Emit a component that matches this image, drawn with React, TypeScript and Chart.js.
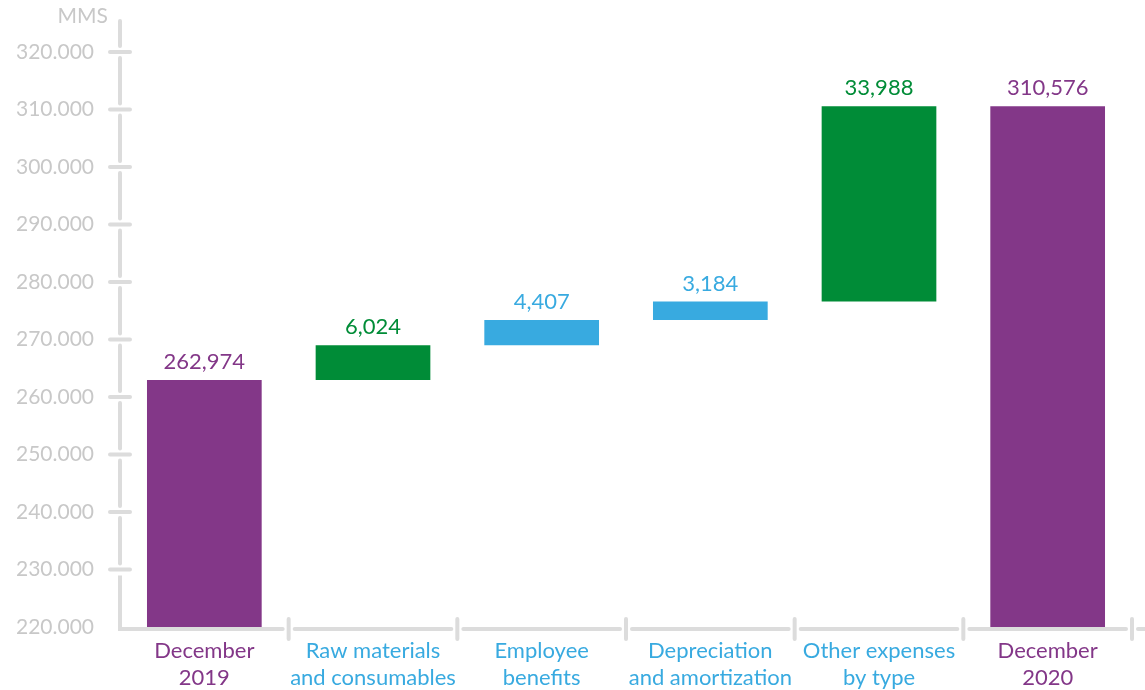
import React, { useEffect, useRef } from "react";
import { Chart, registerables } from "chart.js";

Chart.register(...registerables);

const PURPLE = "rgb(131,55,136)";
const GREEN = "rgb(0,140,55)";
const BLUE = "rgb(56,170,224)";
const AXIS_GREY = "#dcdcdc";
const TEXT_GREY = "#c8c8c8";
const FONT = "Lato, 'Open Sans', sans-serif";

const categories: string[][] = [
  ["December", "2019"],
  ["Raw materials", "and consumables"],
  ["Employee", "benefits"],
  ["Depreciation", "and amortization"],
  ["Other expenses", "by type"],
  ["December", "2020"],
];
const startValue = 262974;
const changes = [6024, 4407, 3184, 33988];
const endValue = 310576;
const barColors = [PURPLE, GREEN, BLUE, BLUE, GREEN, PURPLE];
const labelColors = [PURPLE, BLUE, BLUE, BLUE, BLUE, PURPLE];
const yMin = 220000;
const yMax = 320000;
const yStep = 10000;
const unitLabel = "MMS";

const displayValues = [startValue, ...changes, endValue];
const ranges: number[][] = [];
ranges.push([yMin, startValue]);
let running = startValue;
for (const c of changes) {
  ranges.push([running, running + c]);
  running += c;
}
ranges.push([yMin, endValue]);

const fmtTick = (v: number) => {
  const th = Math.floor(v / 1000);
  const rest = String(Math.round(v % 1000)).padStart(3, "0");
  return `${th}.${rest}`;
};
const fmtValue = (v: number) => v.toLocaleString("en-US");

const axisPlugin = {
  id: "customAxes",
  afterDatasetsDraw(chart: any) {
    const ctx = chart.ctx;
    const y = chart.scales.y;
    const x = chart.scales.x;
    const left = chart.chartArea.left;
    const axisY = chart.chartArea.bottom + 2;
    ctx.save();
    ctx.strokeStyle = AXIS_GREY;
    ctx.lineWidth = 4;
    ctx.lineCap = "round";
    const tickYs: number[] = [];
    for (let v = yMin + yStep; v <= yMax; v += yStep) tickYs.push(y.getPixelForValue(v));
    tickYs.sort((a, b) => a - b);
    const gap = 6;
    let segStart = chart.chartArea.top - 31;
    const drawLine = (x1: number, y1: number, x2: number, y2: number) => {
      ctx.beginPath();
      ctx.moveTo(x1, y1);
      ctx.lineTo(x2, y2);
      ctx.stroke();
    };
    for (const ty of tickYs) {
      drawLine(left, segStart, left, ty - gap);
      drawLine(left - 10, ty, left + 10, ty);
      segStart = ty + gap;
    }
    ctx.lineCap = "butt";
    ctx.beginPath();
    ctx.moveTo(left, segStart);
    ctx.lineTo(left, axisY);
    ctx.lineTo(left + 10, axisY);
    ctx.stroke();
    ctx.lineCap = "round";
    const n = categories.length;
    const bounds: number[] = [];
    for (let i = 1; i <= n; i++) {
      if (i < n) bounds.push((x.getPixelForValue(i - 1) + x.getPixelForValue(i)) / 2);
      else bounds.push(chart.chartArea.right);
    }
    let hs = left + 8;
    for (const bx of bounds) {
      drawLine(hs, axisY, bx - gap, axisY);
      drawLine(bx, axisY - 10, bx, axisY + 10);
      hs = bx + gap;
    }
    drawLine(hs, axisY, chart.width + 10, axisY);
    ctx.fillStyle = TEXT_GREY;
    ctx.font = `21px ${FONT}`;
    ctx.textAlign = "right";
    ctx.textBaseline = "middle";
    ctx.fillText(unitLabel, left - 12, chart.chartArea.top - 36);
    const meta = chart.getDatasetMeta(0);
    ctx.font = `22px ${FONT}`;
    ctx.textAlign = "center";
    ctx.textBaseline = "alphabetic";
    meta.data.forEach((el: any, i: number) => {
      ctx.fillStyle = barColors[i];
      const top = Math.min(el.y, el.base);
      ctx.fillText(fmtValue(displayValues[i]), el.x, top - 11);
    });
    ctx.restore();
  },
};

export default function App() {
  const ref = useRef<HTMLCanvasElement>(null);
  useEffect(() => {
    if (!ref.current) return;
    const chart = new Chart(ref.current, {
      type: "bar",
      data: {
        labels: categories,
        datasets: [
          {
            data: ranges as any,
            backgroundColor: barColors,
            borderWidth: 0,
            barPercentage: 0.68,
            categoryPercentage: 1,
          },
        ],
      },
      options: {
        animation: false,
        responsive: false,
        maintainAspectRatio: false,
        devicePixelRatio: 1,
        layout: { padding: { top: 52, right: 13, left: 0, bottom: 0 } },
        plugins: { legend: { display: false }, tooltip: { enabled: false } },
        scales: {
          x: {
            grid: { display: false, drawTicks: false },
            border: { display: false },
            ticks: {
              color: (c: any) => labelColors[c.index],
              font: { family: FONT, size: 22, lineHeight: 1.23 },
              padding: 10,
              maxRotation: 0,
              autoSkip: false,
            },
            afterFit: (s: any) => {
              s.height = 63;
            },
          },
          y: {
            min: yMin,
            max: yMax,
            grid: { display: false, drawTicks: false },
            border: { display: false },
            ticks: {
              stepSize: yStep,
              color: TEXT_GREY,
              font: { family: FONT, size: 21 },
              padding: 26,
              callback: (v: any) => fmtTick(Number(v)),
            },
            afterFit: (s: any) => {
              s.width = 120;
            },
          },
        },
      },
      plugins: [axisPlugin],
    });
    return () => chart.destroy();
  }, []);
  return (
    <div style={{ position: "absolute", left: 0, top: 0, width: 1145, height: 690, background: "#fff" }}>
      <canvas ref={ref} width={1145} height={690} style={{ display: "block", width: 1145, height: 690 }} />
    </div>
  );
}
